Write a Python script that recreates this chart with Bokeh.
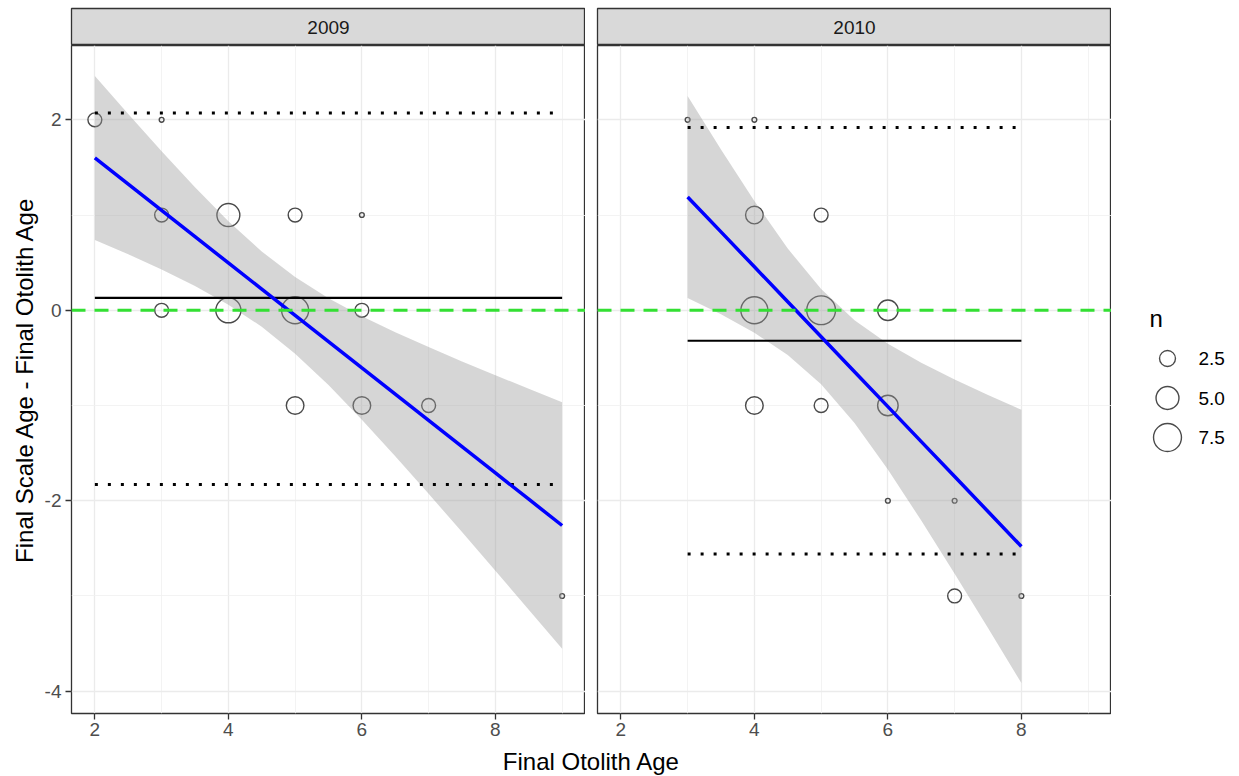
import math
from bokeh.plotting import figure
from bokeh.layouts import row, column
from bokeh.models import Range1d, FixedTicker
from bokeh.core.properties import value
from bokeh.embed import file_html
from bokeh.resources import INLINE

# ---------------- data ----------------
years = ["2009", "2010"]

# aggregated points: final otolith age, scale - otolith difference, count n
x09 = [2, 3, 3, 4, 5, 6, 3, 4, 5, 6, 5, 6, 7, 9]
y09 = [2, 2, 1, 1, 1, 1, 0, 0, 0, 0, -1, -1, -1, -3]
n09 = [2, 1, 2, 5, 2, 1, 2, 6, 7, 2, 3, 3, 2, 1]

x10 = [3, 4, 4, 5, 4, 5, 6, 4, 5, 6, 6, 7, 7, 8]
y10 = [2, 2, 1, 1, 0, 0, 0, -1, -1, -1, -2, -2, -3, -3]
n10 = [1, 1, 3, 2, 7, 8, 4, 3, 2, 4, 1, 1, 2, 1]

# linear fit with 95% confidence band
fit_x09 = [2, 2.5, 3, 3.5, 4, 4.5, 5, 5.5, 6, 6.5, 7, 7.5, 8, 8.5, 9]
fit_y09 = [1.600, 1.324, 1.049, 0.773, 0.497, 0.222, -0.054, -0.330, -0.606,
           -0.881, -1.157, -1.433, -1.708, -1.984, -2.260]
ci_hi09 = [2.461, 2.061, 1.669, 1.291, 0.935, 0.617, 0.348, 0.126, -0.063,
           -0.230, -0.387, -0.537, -0.682, -0.824, -0.965]
ci_lo09 = [0.739, 0.587, 0.429, 0.255, 0.059, -0.173, -0.456, -0.786, -1.149,
           -1.532, -1.927, -2.329, -2.734, -3.144, -3.555]

fit_x10 = [3, 3.5, 4, 4.5, 5, 5.5, 6, 6.5, 7, 7.5, 8]
fit_y10 = [1.190, 0.823, 0.456, 0.089, -0.278, -0.645, -1.012, -1.379, -1.746,
           -2.113, -2.480]
ci_hi10 = [2.250, 1.688, 1.148, 0.648, 0.222, -0.105, -0.351, -0.550, -0.726,
           -0.889, -1.045]
ci_lo10 = [0.130, -0.042, -0.236, -0.470, -0.778, -1.185, -1.673, -2.208,
           -2.766, -3.337, -3.915]

# mean difference and limits of agreement, drawn over the observed age span
ba_x09 = [2, 9]
mean09, upper09, lower09 = 0.13, 2.07, -1.83
ba_x10 = [3, 8]
mean10, upper10, lower10 = -0.32, 1.92, -2.56

legend_breaks = [2.5, 5.0, 7.5]
x_ticks = [2, 4, 6, 8]
x_minor = [3, 5, 7, 9]
y_ticks = [-4, -2, 0, 2]
y_minor = [-3, -1, 1]

# ---------------- styling ----------------
FONT = "Liberation Sans"
N_MIN = min(n09 + n10)
N_MAX = max(n09 + n10)


def size_of(n):
    # area scale like ggplot2 scale_size (range 1..6), in pixels
    return 4.8 * (1 + 5 * math.sqrt((n - N_MIN) / (N_MAX - N_MIN)))


X_RANGE = (1.65, 9.35)
Y_RANGE = (-4.234, 2.78)
FRAME_W = 514
FRAME_H = 668
STRIP_H = 37
TOP = 8
LEFT = 71
GAP = 12


def make_strip(label, left):
    s = figure(frame_width=FRAME_W, frame_height=STRIP_H,
               x_range=Range1d(0, 1), y_range=Range1d(0, 1),
               x_axis_location=None, y_axis_location=None,
               min_border_left=left, min_border_right=0,
               min_border_top=TOP, min_border_bottom=0,
               output_backend="svg", toolbar_location=None)
    s.grid.visible = False
    s.background_fill_color = "#D9D9D9"
    s.border_fill_color = "white"
    s.outline_line_color = "#333333"
    s.outline_line_width = 1.3
    s.text(x=[0.5], y=[0.5], text=[label], text_align="center",
           text_baseline="middle", text_font=value(FONT),
           text_font_size="19px", text_color="#1A1A1A")
    return s


def make_panel(xs, ys, ns, fx, fy, lo, hi, bx, m, u, l, show_y):
    p = figure(frame_width=FRAME_W, frame_height=FRAME_H,
               x_range=Range1d(*X_RANGE), y_range=Range1d(*Y_RANGE),
               y_axis_location="left" if show_y else None,
               min_border_left=LEFT if show_y else GAP, min_border_right=0,
               min_border_top=0, min_border_bottom=32,
               output_backend="svg", toolbar_location=None)
    p.background_fill_color = "white"
    p.border_fill_color = "white"
    p.outline_line_color = "#333333"
    p.outline_line_width = 1.3

    p.xgrid.ticker = FixedTicker(ticks=x_ticks, minor_ticks=x_minor)
    p.ygrid.ticker = FixedTicker(ticks=y_ticks, minor_ticks=y_minor)
    for g in (p.xgrid, p.ygrid):
        g.grid_line_color = "#EBEBEB"
        g.grid_line_width = 1.3
        g.minor_grid_line_color = "#F0F0F0"
        g.minor_grid_line_width = 0.8

    axes = [p.xaxis[0]] + ([p.yaxis[0]] if show_y else [])
    for ax in axes:
        ax.axis_line_color = None
        ax.major_tick_line_color = "#333333"
        ax.major_tick_line_width = 1.3
        ax.major_tick_out = 6
        ax.major_tick_in = 0
        ax.minor_tick_line_color = None
        ax.major_label_text_font = FONT
        ax.major_label_text_font_size = "19px"
        ax.major_label_text_color = "#4D4D4D"
    p.xaxis.ticker = FixedTicker(ticks=x_ticks)
    p.xaxis.major_label_overrides = {t: str(t) for t in x_ticks}
    p.xaxis.major_label_standoff = 3
    if show_y:
        p.yaxis.ticker = FixedTicker(ticks=y_ticks)
        p.yaxis.major_label_overrides = {t: str(t) for t in y_ticks}
        p.yaxis.major_label_standoff = 4
        p.yaxis.axis_label = "Final Scale Age - Final Otolith Age"
        p.yaxis.axis_label_text_font = FONT
        p.yaxis.axis_label_text_font_size = "24px"
        p.yaxis.axis_label_text_font_style = "normal"
        p.yaxis.axis_label_text_color = "black"
        p.yaxis.axis_label_standoff = 4

    # points sized by n
    p.scatter(x=xs, y=ys, size=[size_of(n) for n in ns], marker="circle",
              fill_color=None, line_color="#4A4A4A", line_width=1.4)
    # confidence band
    p.varea(x=fx, y1=lo, y2=hi, fill_color="#999999", fill_alpha=0.4)
    # mean and limits of agreement
    p.line(x=bx, y=[m, m], line_color="black", line_width=2.2)
    p.line(x=bx, y=[u, u], line_color="black", line_width=3, line_dash="3 10")
    p.line(x=bx, y=[l, l], line_color="black", line_width=3, line_dash="3 10")
    # fitted line
    p.line(x=fx, y=fy, line_color="#0000FF", line_width=3.5)
    # zero reference
    p.line(x=list(X_RANGE), y=[0, 0], line_color="#33E033", line_width=3,
           line_dash="14 9")
    return p


strip09 = make_strip(years[0], LEFT)
strip10 = make_strip(years[1], GAP)
p09 = make_panel(x09, y09, n09, fit_x09, fit_y09, ci_lo09, ci_hi09,
                 ba_x09, mean09, upper09, lower09, True)
p10 = make_panel(x10, y10, n10, fit_x10, fit_y10, ci_lo10, ci_hi10,
                 ba_x10, mean10, upper10, lower10, False)

# ---------------- legend (size key) ----------------
LEG_W = 1239 - (LEFT + FRAME_W + GAP + FRAME_W)
LEG_H = TOP + STRIP_H + FRAME_H
leg = figure(frame_width=LEG_W, frame_height=LEG_H,
             x_range=Range1d(0, LEG_W), y_range=Range1d(LEG_H, 0),
             x_axis_location=None, y_axis_location=None,
             min_border_left=0, min_border_right=0,
             min_border_top=0, min_border_bottom=0,
             output_backend="svg", toolbar_location=None)
leg.grid.visible = False
leg.outline_line_color = None
leg.background_fill_color = "white"
leg.border_fill_color = "white"
key_y = [358 + 39.5 * i for i in range(len(legend_breaks))]
leg.text(x=[38], y=[318], text=["n"], text_align="left",
         text_baseline="middle", text_font=value(FONT),
         text_font_size="24px", text_color="black")
leg.scatter(x=[56] * len(legend_breaks), y=key_y,
            size=[size_of(b) for b in legend_breaks], marker="circle",
            fill_color=None, line_color="#4A4A4A", line_width=1.4)
leg.text(x=[87] * len(legend_breaks), y=key_y,
         text=[f"{b:.1f}" for b in legend_breaks], text_align="left",
         text_baseline="middle", text_font=value(FONT),
         text_font_size="19px", text_color="black")

# ---------------- shared x-axis title ----------------
XT_H = 31
xt = figure(frame_width=FRAME_W * 2 + GAP, frame_height=XT_H,
            x_range=Range1d(0, 1), y_range=Range1d(0, 1),
            x_axis_location=None, y_axis_location=None,
            min_border_left=LEFT, min_border_right=0,
            min_border_top=0, min_border_bottom=0,
            output_backend="svg", toolbar_location=None)
xt.grid.visible = False
xt.outline_line_color = None
xt.background_fill_color = "white"
xt.border_fill_color = "white"
xt.text(x=[0.5], y=[0.5], text=["Final Otolith Age"], text_align="center",
        text_baseline="middle", text_font=value(FONT),
        text_font_size="24px", text_color="black")

layout = column(row(column(strip09, p09), column(strip10, p10), leg), xt)

open("out.html", "w").write(file_html(layout, INLINE))
